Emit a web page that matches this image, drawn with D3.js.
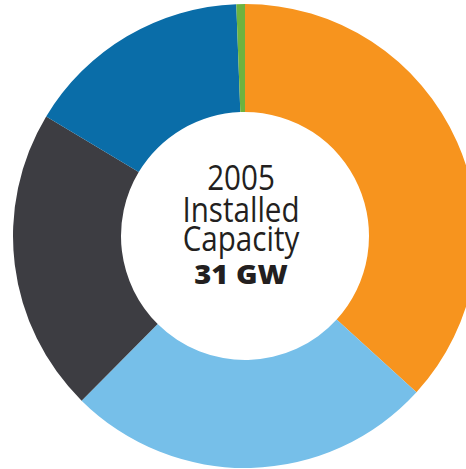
<!DOCTYPE html>
<html>
<head>
<meta charset="utf-8">
<script src="https://cdn.jsdelivr.net/npm/d3@7"></script>
<style>
  html, body { margin: 0; padding: 0; background: #fff; overflow: hidden; }
  svg { display: block; }
</style>
</head>
<body>
<svg id="chart" width="466" height="469"></svg>
<script>
// Capacity shares (percent), clockwise from 12 o'clock
const categories = ["Orange", "Light blue", "Dark gray", "Blue", "Green"];
const shares = [36.8, 25.7, 21.2, 15.8, 0.6];
const colors = ["#F7941E", "#76BFE9", "#3D3D42", "#0A6DA8", "#6DB33F"];
const centerLines = ["2005", "Installed", "Capacity"];
const totalLabel = "31 GW";

const svg = d3.select("#chart");
const cx = 245, cy = 236, outerR = 232, innerR = 124;

const pie = d3.pie().sort(null).value(d => d.v).startAngle(0).endAngle(2 * Math.PI);
const arc = d3.arc().innerRadius(innerR).outerRadius(outerR);
const data = categories.map((c, i) => ({ c, v: shares[i], col: colors[i] }));

const g = svg.append("g").attr("transform", `translate(${cx},${cy})`);
g.selectAll("path").data(pie(data)).join("path")
  .attr("d", arc)
  .attr("fill", d => d.data.col);

const tx = 241;
const baselines = [190, 222, 251];
svg.selectAll("text.l").data(centerLines).join("text")
  .attr("class", "l")
  .attr("transform", (d, i) => `translate(${tx},${baselines[i]}) scale(0.87,1)`)
  .attr("text-anchor", "middle")
  .attr("font-family", "'Open Sans', sans-serif")
  .attr("font-size", 34)
  .attr("fill", "#231F20")
  .text(d => d);

svg.append("text")
  .attr("transform", `translate(${tx},284) scale(1.08,1)`)
  .attr("text-anchor", "middle")
  .attr("font-family", "'Open Sans', sans-serif")
  .attr("font-weight", 800)
  .attr("font-size", 27)
  .attr("fill", "#231F20")
  .text(totalLabel);
</script>
</body>
</html>
